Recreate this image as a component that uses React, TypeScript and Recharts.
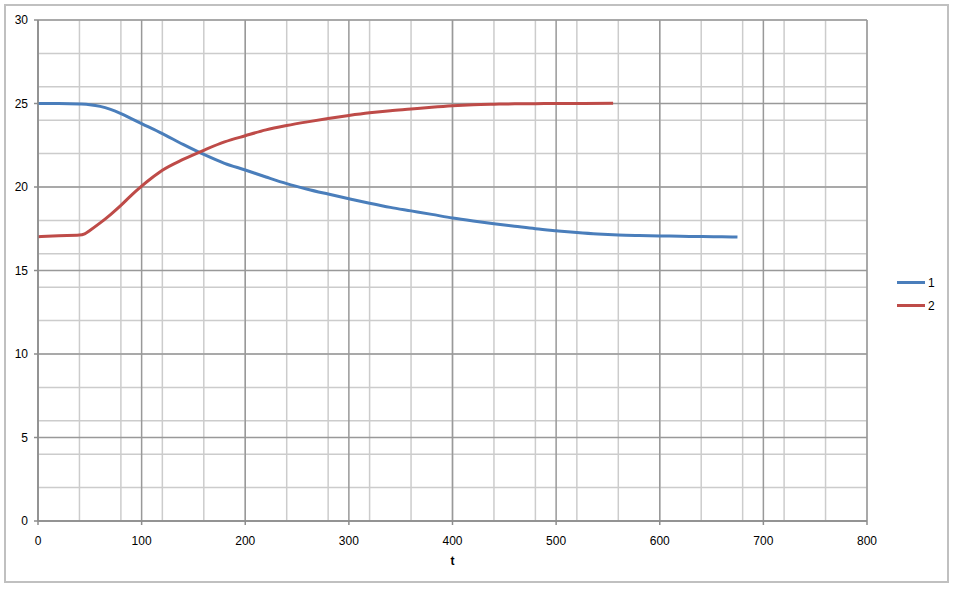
import React, { ReactElement } from "react";
import {
    LineChart,
    Line,
    XAxis,
    YAxis,
    CartesianGrid
} from "recharts";

// series 1 (blue) and series 2 (red)
const series1T = [0, 20, 40, 50, 60, 70, 80, 90, 100, 120, 140, 160, 180, 200, 220, 240, 260, 280, 300, 320, 340, 360, 380, 400, 420, 440, 460, 480, 500, 520, 540, 560, 580, 600, 620, 640, 660, 675];
const series1V = [25.0, 25.0, 24.97, 24.93, 24.83, 24.65, 24.4, 24.1, 23.8, 23.2, 22.55, 21.95, 21.42, 21.02, 20.6, 20.2, 19.87, 19.58, 19.3, 19.03, 18.78, 18.57, 18.36, 18.14, 17.96, 17.8, 17.65, 17.5, 17.38, 17.27, 17.18, 17.12, 17.09, 17.07, 17.05, 17.03, 17.02, 17.0];

const series2T = [0, 20, 40, 45, 50, 60, 70, 80, 90, 100, 110, 120, 140, 160, 180, 200, 220, 240, 260, 280, 300, 320, 340, 360, 380, 400, 420, 440, 460, 480, 500, 520, 555];
const series2V = [17.02, 17.08, 17.12, 17.2, 17.4, 17.85, 18.35, 18.9, 19.5, 20.05, 20.55, 21.0, 21.65, 22.2, 22.7, 23.07, 23.42, 23.68, 23.9, 24.1, 24.28, 24.44, 24.57, 24.67, 24.78, 24.87, 24.93, 24.96, 24.98, 24.99, 25.0, 25.0, 25.02];

const xTicks = [0, 100, 200, 300, 400, 500, 600, 700, 800];
const yTicks = [0, 5, 10, 15, 20, 25, 30];
const xMinor = Array.from({ length: 41 }, (_, i) => i * 20);
const yMinor = Array.from({ length: 31 }, (_, i) => i);

const seriesNames = ["1", "2"];
const seriesColors = ["#4a7ebb", "#be4b48"];

const data1 = series1T.map((t, i) => ({ t, v: series1V[i] }));
const data2 = series2T.map((t, i) => ({ t, v: series2V[i] }));

const FONT = "'Liberation Sans', Arial, sans-serif";

// legend sits outside the chart so it doesn't eat plot space
const LegendBox = (): ReactElement => (
    <div style={{ position: "absolute", left: 897, top: 271, fontFamily: FONT, fontSize: 12, color: "#000" }}>
        {seriesNames.map((name, i) => (
            <div key={name} style={{ display: "flex", alignItems: "center", height: 23 }}>
                <span style={{ display: "inline-block", width: 28, height: 3, background: seriesColors[i], marginRight: 3 }} />
                <span>{name}</span>
            </div>
        ))}
    </div>
);

const App = (): ReactElement => {
    return (
        <div style={{ position: "absolute", left: 0, top: 0, width: 954, height: 590, background: "#fff" }}>
            <div
                style={{
                    position: "absolute",
                    left: 4,
                    top: 4,
                    width: 945,
                    height: 579,
                    boxSizing: "border-box",
                    border: "2px solid #c0c0c0"
                }}
            />
            <div style={{ position: "absolute", left: 0, top: 0 }}>
                <LineChart
                    width={954}
                    height={590}
                    margin={{ top: 20, right: 87, bottom: 19, left: 8 }}
                >
                    <CartesianGrid
                        stroke="#cccccc"
                        strokeWidth={1.5}
                        verticalValues={xMinor}
                        horizontalValues={yMinor}
                    />
                    <CartesianGrid
                        stroke="#999999"
                        strokeWidth={1.5}
                        verticalValues={xTicks}
                        horizontalValues={yTicks}
                    />
                    <XAxis
                        dataKey="t"
                        type="number"
                        domain={[0, 800]}
                        ticks={xTicks}
                        allowDataOverflow
                        height={50}
                        tickSize={4}
                        tickMargin={11}
                        stroke="#8c8c8c"
                        strokeWidth={1.5}
                        tick={{ fill: "#000", fontSize: 12, fontFamily: FONT }}
                        label={{ value: "t", position: "insideBottom", offset: 6, fill: "#000", fontSize: 12, fontWeight: "bold", fontFamily: FONT }}
                    />
                    <YAxis
                        type="number"
                        domain={[0, 30]}
                        ticks={yTicks}
                        allowDataOverflow
                        width={30}
                        tickSize={4}
                        tickMargin={6}
                        stroke="#8c8c8c"
                        strokeWidth={1.5}
                        tick={{ fill: "#000", fontSize: 12, fontFamily: FONT }}
                    />
                    <Line
                        data={data1}
                        dataKey="v"
                        name={seriesNames[0]}
                        type="monotone"
                        stroke={seriesColors[0]}
                        strokeWidth={3}
                        dot={false}
                        isAnimationActive={false}
                    />
                    <Line
                        data={data2}
                        dataKey="v"
                        name={seriesNames[1]}
                        type="monotone"
                        stroke={seriesColors[1]}
                        strokeWidth={3}
                        dot={false}
                        isAnimationActive={false}
                    />
                </LineChart>
            </div>
            <LegendBox />
        </div>
    );
};

export default App;
